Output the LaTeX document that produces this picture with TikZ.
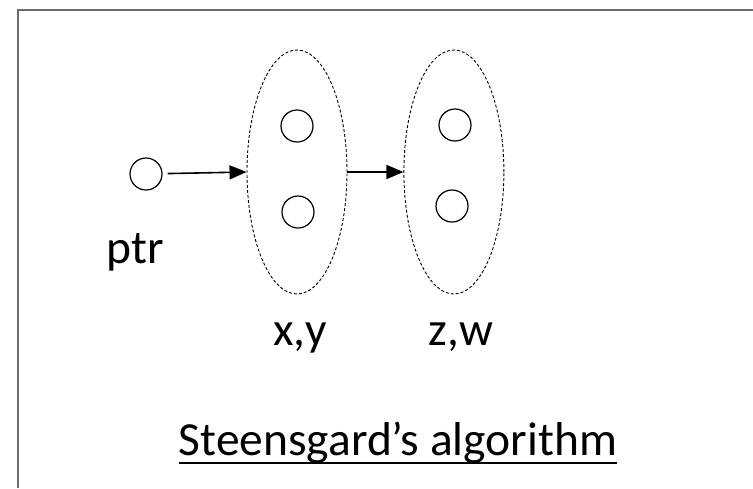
\documentclass[tikz,border=0pt]{standalone}
\usepackage{fontspec}
\setmainfont{Carlito}
\usetikzlibrary{shapes.geometric, positioning, arrows.meta}

\begin{document}
\begin{tikzpicture}[x=1pt, y=-1pt,
	every node/.style={font=\fontsize{47.5}{54}\selectfont},
	obj/.style={circle, draw, line width=1.2pt, minimum size=32pt, inner sep=0pt},
	cls/.style={ellipse, draw, dash pattern=on 3pt off 2pt, line width=0.9pt, minimum width=100pt, minimum height=244pt, inner sep=0pt},
	pts/.style={-{Triangle[length=17pt, width=14pt]}, line width=1.6pt},
	lbl/.style={anchor=base, inner sep=0pt}]
			\useasboundingbox (0,0) rectangle (753,488);
			\draw[line width=2pt, black!58] (18,488) -- (18,10) -- (753,10);

			\node[obj] (ptr) at (146,174) {};
			\node[cls] (xy) at (297,172) {};
			\node[cls, right = 56pt of xy] (zw) {};
			\node[obj] (x) at (297,126) {};
			\node[obj] (y) at (298,212) {};
			\node[obj] (z) at (455,125) {};
			\node[obj] (w) at (452,206) {};

			\node[lbl] (ptrlabel) at (135,263) {ptr};
			\node[lbl] (xylabel) at (300,345) {x,y};
			\node[lbl] (zwlabel) at (461,345) {z,w};
			\node[lbl] (title) at (398,455) {Steensgard’s algorithm};
			\draw[line width=2pt] ([yshift=-8pt]title.base west) -- ([yshift=-8pt]title.base east);

			\draw (ptr) edge[pts, shorten <=5pt] (xy.west);
			\draw (xy) edge[pts] (zw);
		\end{tikzpicture}
\end{document}
